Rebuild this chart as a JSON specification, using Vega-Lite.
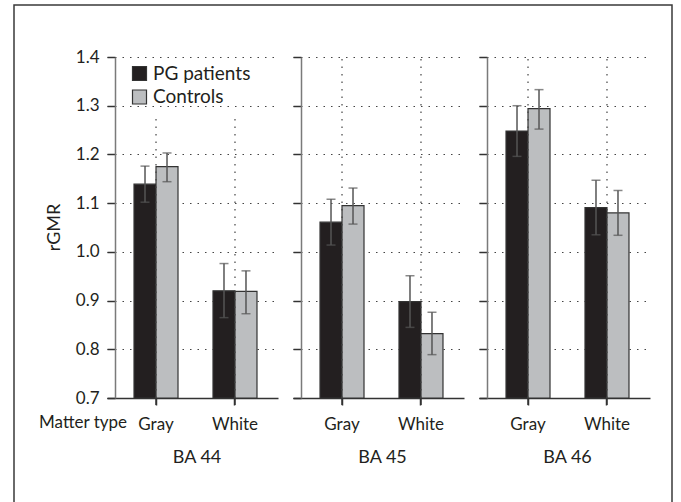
{
  "$schema": "https://vega.github.io/schema/vega-lite/v6.json",
  "width": 658,
  "height": 500,
  "autosize": {"type": "none"},
  "padding": {"left": 14, "top": 5, "right": 9, "bottom": 0},
  "background": "white",
  "config": {
    "view": {"stroke": "#3a3a3a", "strokeWidth": 1.5},
    "font": "Lato",
    "axis": {
      "labelFont": "Lato", "titleFont": "Lato",
      "labelFontSize": 17, "titleFontSize": 18, "titleFontWeight": "normal",
      "labelColor": "#231f20", "titleColor": "#231f20",
      "gridColor": "#444444", "gridDash": [1.5, 6], "gridWidth": 1.2, "gridOpacity": 1,
      "tickColor": "#333333", "tickWidth": 1.5, "tickOpacity": 1, "domainWidth": 1.5
    },
    "axisX": {"offset": -107, "ticks": true, "tickSize": 7, "labelAngle": 0, "labelAlign": "center", "labelBaseline": "middle", "labelPadding": 19, "grid": false, "domainColor": "#333333", "titleY": 59, "titleBaseline": "middle", "titleAnchor": "middle"},
    "axisY": {"ticks": true, "tickSize": 8, "labelPadding": 8, "grid": true, "domainColor": "#7a7a7a"},
    "tick": {"thickness": 1.5}
  },
  "data": {
    "values": [
      {"ba": "BA 44", "matter": "Gray", "group": "PG patients", "mean": 1.139, "lo": 1.102, "hi": 1.176},
      {"ba": "BA 44", "matter": "Gray", "group": "Controls", "mean": 1.175, "lo": 1.144, "hi": 1.203},
      {"ba": "BA 44", "matter": "White", "group": "PG patients", "mean": 0.920, "lo": 0.865, "hi": 0.976},
      {"ba": "BA 44", "matter": "White", "group": "Controls", "mean": 0.919, "lo": 0.873, "hi": 0.961},
      {"ba": "BA 45", "matter": "Gray", "group": "PG patients", "mean": 1.061, "lo": 1.014, "hi": 1.108},
      {"ba": "BA 45", "matter": "Gray", "group": "Controls", "mean": 1.095, "lo": 1.057, "hi": 1.131},
      {"ba": "BA 45", "matter": "White", "group": "PG patients", "mean": 0.898, "lo": 0.845, "hi": 0.951},
      {"ba": "BA 45", "matter": "White", "group": "Controls", "mean": 0.832, "lo": 0.789, "hi": 0.876},
      {"ba": "BA 46", "matter": "Gray", "group": "PG patients", "mean": 1.248, "lo": 1.196, "hi": 1.300},
      {"ba": "BA 46", "matter": "Gray", "group": "Controls", "mean": 1.294, "lo": 1.252, "hi": 1.333},
      {"ba": "BA 46", "matter": "White", "group": "PG patients", "mean": 1.091, "lo": 1.035, "hi": 1.147},
      {"ba": "BA 46", "matter": "White", "group": "Controls", "mean": 1.080, "lo": 1.034, "hi": 1.126}
    ]
  },
  "layer": [
    {
      "transform": [{"filter": "datum.ba === 'BA 44'"}],
      "layer": [
        {
          "mark": {"type": "bar", "stroke": "#333333", "strokeWidth": 1.2},
          "encoding": {
            "x": {
              "field": "matter", "type": "nominal",
              "scale": {"domain": ["Gray", "White"], "range": [93, 264], "paddingInner": 0.443, "paddingOuter": 0.304, "align": 0.5625},
              "axis": {"orient": "bottom", "title": "BA 44", "titleX": 182.5}
            },
            "xOffset": {"field": "group", "type": "nominal", "scale": {"domain": ["PG patients", "Controls"]}},
            "y": {
              "field": "mean", "type": "quantitative",
              "scale": {"domain": [0.7, 1.4], "range": [393, 52], "zero": false, "nice": false},
              "axis": {"orient": "left", "offset": -101, "values": [0.7, 0.8, 0.9, 1.0, 1.1, 1.2, 1.3, 1.4], "format": ".1f", "grid": true, "title": null}
            },
            "y2": {"datum": 0.7},
            "color": {
              "field": "group", "type": "nominal",
              "scale": {"domain": ["PG patients", "Controls"], "range": ["#231f20", "#bcbec0"]},
              "legend": {"orient": "none", "legendX": 116, "legendY": 59, "title": null, "symbolType": "square", "symbolSize": 196, "symbolStrokeColor": "#333333", "symbolStrokeWidth": 1.2, "labelFontSize": 19, "labelFont": "Lato", "labelColor": "#231f20", "labelOffset": 4, "rowPadding": 3.5, "padding": 0}
            }
          }
        },
        {
          "transform": [{"filter": "datum.group === 'PG patients'"}],
          "mark": {"type": "rule", "strokeDash": [1.5, 6], "color": "#444444", "strokeWidth": 1.2},
          "encoding": {
            "x": {"field": "matter", "type": "nominal", "axis": {"orient": "bottom", "title": "BA 44", "titleX": 182.5}},
            "y": {"datum": 0.7, "axis": {"orient": "left", "offset": -101, "values": [0.7, 0.8, 0.9, 1.0, 1.1, 1.2, 1.3, 1.4], "format": ".1f", "grid": true, "title": null}},
            "y2": {"datum": 1.28}
          }
        },
        {
          "transform": [{"filter": "datum.group === 'PG patients'"}],
          "mark": {"type": "rule", "color": "#333333", "strokeWidth": 1.5},
          "encoding": {
            "x": {"field": "matter", "type": "nominal", "axis": {"orient": "bottom", "title": "BA 44", "titleX": 182.5}},
            "y": {"datum": 0.7, "axis": {"orient": "left", "offset": -101, "values": [0.7, 0.8, 0.9, 1.0, 1.1, 1.2, 1.3, 1.4], "format": ".1f", "grid": true, "title": null}},
            "y2": {"datum": 0.6856}
          }
        },
        {
          "mark": {"type": "rule", "color": "#555555", "strokeWidth": 1.5},
          "encoding": {
            "x": {"field": "matter", "type": "nominal", "axis": {"orient": "bottom", "title": "BA 44", "titleX": 182.5}},
            "xOffset": {"field": "group", "type": "nominal"},
            "y": {"field": "lo", "type": "quantitative", "axis": {"orient": "left", "offset": -101, "values": [0.7, 0.8, 0.9, 1.0, 1.1, 1.2, 1.3, 1.4], "format": ".1f", "grid": true, "title": null}},
            "y2": {"field": "hi"}
          }
        },
        {
          "mark": {"type": "tick", "color": "#555555", "size": 9},
          "encoding": {
            "x": {"field": "matter", "type": "nominal", "axis": {"orient": "bottom", "title": "BA 44", "titleX": 182.5}},
            "xOffset": {"field": "group", "type": "nominal"},
            "y": {"field": "lo", "type": "quantitative", "axis": {"orient": "left", "offset": -101, "values": [0.7, 0.8, 0.9, 1.0, 1.1, 1.2, 1.3, 1.4], "format": ".1f", "grid": true, "title": null}}
          }
        },
        {
          "mark": {"type": "tick", "color": "#555555", "size": 9},
          "encoding": {
            "x": {"field": "matter", "type": "nominal", "axis": {"orient": "bottom", "title": "BA 44", "titleX": 182.5}},
            "xOffset": {"field": "group", "type": "nominal"},
            "y": {"field": "hi", "type": "quantitative", "axis": {"orient": "left", "offset": -101, "values": [0.7, 0.8, 0.9, 1.0, 1.1, 1.2, 1.3, 1.4], "format": ".1f", "grid": true, "title": null}}
          }
        },
        {
          "transform": [{"filter": "datum.group === 'PG patients' && datum.matter === 'Gray'"}],
          "mark": {"type": "text", "align": "right", "baseline": "middle", "dx": -29, "dy": 25, "fontSize": 17, "font": "Lato", "color": "#231f20"},
          "encoding": {
            "x": {"field": "matter", "type": "nominal", "axis": {"orient": "bottom", "title": "BA 44", "titleX": 182.5}},
            "y": {"datum": 0.7, "axis": {"orient": "left", "offset": -101, "values": [0.7, 0.8, 0.9, 1.0, 1.1, 1.2, 1.3, 1.4], "format": ".1f", "grid": true, "title": null}},
            "text": {"value": "Matter type"}
          }
        },
        {
          "transform": [{"filter": "datum.group === 'PG patients' && datum.matter === 'Gray'"}],
          "mark": {"type": "text", "align": "center", "baseline": "middle", "angle": 270, "dx": 0, "dy": -101, "fontSize": 18, "font": "Lato", "color": "#231f20"},
          "encoding": {
            "x": {"field": "matter", "type": "nominal", "axis": {"orient": "bottom", "title": "BA 44", "titleX": 182.5}},
            "y": {"datum": 1.05, "axis": {"orient": "left", "offset": -101, "values": [0.7, 0.8, 0.9, 1.0, 1.1, 1.2, 1.3, 1.4], "format": ".1f", "grid": true, "title": null}},
            "text": {"value": "rGMR"}
          }
        }
      ]
    },
    {
      "transform": [{"filter": "datum.ba === 'BA 45'"}],
      "layer": [
        {
          "mark": {"type": "bar", "stroke": "#333333", "strokeWidth": 1.2},
          "encoding": {
            "x": {
              "field": "matter", "type": "nominal",
              "scale": {"domain": ["Gray", "White"], "range": [279, 450], "paddingInner": 0.443, "paddingOuter": 0.304, "align": 0.5625},
              "axis": {"orient": "bottom", "title": "BA 45", "titleX": 368}
            },
            "xOffset": {"field": "group", "type": "nominal", "scale": {"domain": ["PG patients", "Controls"]}},
            "y": {
              "field": "mean", "type": "quantitative",
              "scale": {"domain": [0.7, 1.4], "range": [393, 52], "zero": false, "nice": false},
              "axis": {"orient": "left", "offset": -287, "values": [0.7, 0.8, 0.9, 1.0, 1.1, 1.2, 1.3, 1.4], "labels": false, "grid": true, "title": null}
            },
            "y2": {"datum": 0.7},
            "color": {
              "field": "group", "type": "nominal",
              "scale": {"domain": ["PG patients", "Controls"], "range": ["#231f20", "#bcbec0"]},
              "legend": null
            }
          }
        },
        {
          "transform": [{"filter": "datum.group === 'PG patients'"}],
          "mark": {"type": "rule", "strokeDash": [1.5, 6], "color": "#444444", "strokeWidth": 1.2},
          "encoding": {
            "x": {"field": "matter", "type": "nominal", "axis": {"orient": "bottom", "title": "BA 45", "titleX": 368}},
            "y": {"datum": 0.7, "axis": {"orient": "left", "offset": -287, "values": [0.7, 0.8, 0.9, 1.0, 1.1, 1.2, 1.3, 1.4], "labels": false, "grid": true, "title": null}},
            "y2": {"datum": 1.4}
          }
        },
        {
          "transform": [{"filter": "datum.group === 'PG patients'"}],
          "mark": {"type": "rule", "color": "#333333", "strokeWidth": 1.5},
          "encoding": {
            "x": {"field": "matter", "type": "nominal", "axis": {"orient": "bottom", "title": "BA 45", "titleX": 368}},
            "y": {"datum": 0.7, "axis": {"orient": "left", "offset": -287, "values": [0.7, 0.8, 0.9, 1.0, 1.1, 1.2, 1.3, 1.4], "labels": false, "grid": true, "title": null}},
            "y2": {"datum": 0.6856}
          }
        },
        {
          "mark": {"type": "rule", "color": "#555555", "strokeWidth": 1.5},
          "encoding": {
            "x": {"field": "matter", "type": "nominal", "axis": {"orient": "bottom", "title": "BA 45", "titleX": 368}},
            "xOffset": {"field": "group", "type": "nominal"},
            "y": {"field": "lo", "type": "quantitative", "axis": {"orient": "left", "offset": -287, "values": [0.7, 0.8, 0.9, 1.0, 1.1, 1.2, 1.3, 1.4], "labels": false, "grid": true, "title": null}},
            "y2": {"field": "hi"}
          }
        },
        {
          "mark": {"type": "tick", "color": "#555555", "size": 9},
          "encoding": {
            "x": {"field": "matter", "type": "nominal", "axis": {"orient": "bottom", "title": "BA 45", "titleX": 368}},
            "xOffset": {"field": "group", "type": "nominal"},
            "y": {"field": "lo", "type": "quantitative", "axis": {"orient": "left", "offset": -287, "values": [0.7, 0.8, 0.9, 1.0, 1.1, 1.2, 1.3, 1.4], "labels": false, "grid": true, "title": null}}
          }
        },
        {
          "mark": {"type": "tick", "color": "#555555", "size": 9},
          "encoding": {
            "x": {"field": "matter", "type": "nominal", "axis": {"orient": "bottom", "title": "BA 45", "titleX": 368}},
            "xOffset": {"field": "group", "type": "nominal"},
            "y": {"field": "hi", "type": "quantitative", "axis": {"orient": "left", "offset": -287, "values": [0.7, 0.8, 0.9, 1.0, 1.1, 1.2, 1.3, 1.4], "labels": false, "grid": true, "title": null}}
          }
        }
      ]
    },
    {
      "transform": [{"filter": "datum.ba === 'BA 46'"}],
      "layer": [
        {
          "mark": {"type": "bar", "stroke": "#333333", "strokeWidth": 1.2},
          "encoding": {
            "x": {
              "field": "matter", "type": "nominal",
              "scale": {"domain": ["Gray", "White"], "range": [465, 636], "paddingInner": 0.443, "paddingOuter": 0.304, "align": 0.5625},
              "axis": {"orient": "bottom", "title": "BA 46", "titleX": 553}
            },
            "xOffset": {"field": "group", "type": "nominal", "scale": {"domain": ["PG patients", "Controls"]}},
            "y": {
              "field": "mean", "type": "quantitative",
              "scale": {"domain": [0.7, 1.4], "range": [393, 52], "zero": false, "nice": false},
              "axis": {"orient": "left", "offset": -473, "values": [0.7, 0.8, 0.9, 1.0, 1.1, 1.2, 1.3, 1.4], "labels": false, "grid": true, "title": null}
            },
            "y2": {"datum": 0.7},
            "color": {
              "field": "group", "type": "nominal",
              "scale": {"domain": ["PG patients", "Controls"], "range": ["#231f20", "#bcbec0"]},
              "legend": null
            }
          }
        },
        {
          "transform": [{"filter": "datum.group === 'PG patients'"}],
          "mark": {"type": "rule", "strokeDash": [1.5, 6], "color": "#444444", "strokeWidth": 1.2},
          "encoding": {
            "x": {"field": "matter", "type": "nominal", "axis": {"orient": "bottom", "title": "BA 46", "titleX": 553}},
            "y": {"datum": 0.7, "axis": {"orient": "left", "offset": -473, "values": [0.7, 0.8, 0.9, 1.0, 1.1, 1.2, 1.3, 1.4], "labels": false, "grid": true, "title": null}},
            "y2": {"datum": 1.4}
          }
        },
        {
          "transform": [{"filter": "datum.group === 'PG patients'"}],
          "mark": {"type": "rule", "color": "#333333", "strokeWidth": 1.5},
          "encoding": {
            "x": {"field": "matter", "type": "nominal", "axis": {"orient": "bottom", "title": "BA 46", "titleX": 553}},
            "y": {"datum": 0.7, "axis": {"orient": "left", "offset": -473, "values": [0.7, 0.8, 0.9, 1.0, 1.1, 1.2, 1.3, 1.4], "labels": false, "grid": true, "title": null}},
            "y2": {"datum": 0.6856}
          }
        },
        {
          "mark": {"type": "rule", "color": "#555555", "strokeWidth": 1.5},
          "encoding": {
            "x": {"field": "matter", "type": "nominal", "axis": {"orient": "bottom", "title": "BA 46", "titleX": 553}},
            "xOffset": {"field": "group", "type": "nominal"},
            "y": {"field": "lo", "type": "quantitative", "axis": {"orient": "left", "offset": -473, "values": [0.7, 0.8, 0.9, 1.0, 1.1, 1.2, 1.3, 1.4], "labels": false, "grid": true, "title": null}},
            "y2": {"field": "hi"}
          }
        },
        {
          "mark": {"type": "tick", "color": "#555555", "size": 9},
          "encoding": {
            "x": {"field": "matter", "type": "nominal", "axis": {"orient": "bottom", "title": "BA 46", "titleX": 553}},
            "xOffset": {"field": "group", "type": "nominal"},
            "y": {"field": "lo", "type": "quantitative", "axis": {"orient": "left", "offset": -473, "values": [0.7, 0.8, 0.9, 1.0, 1.1, 1.2, 1.3, 1.4], "labels": false, "grid": true, "title": null}}
          }
        },
        {
          "mark": {"type": "tick", "color": "#555555", "size": 9},
          "encoding": {
            "x": {"field": "matter", "type": "nominal", "axis": {"orient": "bottom", "title": "BA 46", "titleX": 553}},
            "xOffset": {"field": "group", "type": "nominal"},
            "y": {"field": "hi", "type": "quantitative", "axis": {"orient": "left", "offset": -473, "values": [0.7, 0.8, 0.9, 1.0, 1.1, 1.2, 1.3, 1.4], "labels": false, "grid": true, "title": null}}
          }
        }
      ]
    }
  ],
  "resolve": {
    "scale": {"x": "independent", "y": "independent", "color": "independent", "xOffset": "independent"},
    "axis": {"x": "independent", "y": "independent"}
  }
}
